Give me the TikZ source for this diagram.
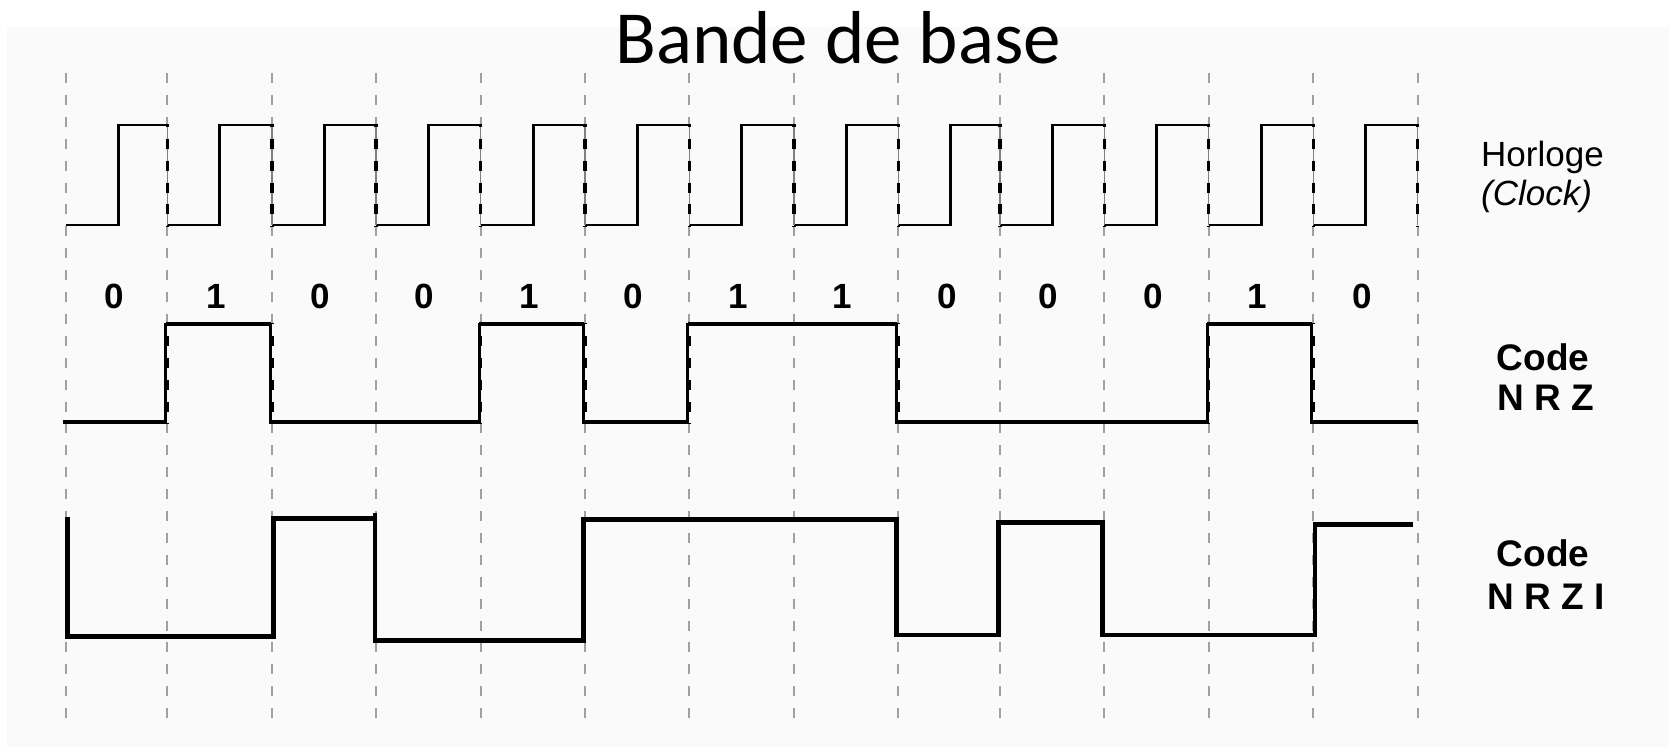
\documentclass[tikz,border=0pt]{standalone}
\usepackage{fontspec}
\setmainfont{Liberation Sans}
\newfontfamily\titlefont{Carlito}
\definecolor{panel}{HTML}{FAFAFA}
\definecolor{gridgray}{HTML}{A0A0A0}
\definecolor{edgegray}{HTML}{808080}
\begin{document}
\begin{tikzpicture}[x=1pt,y=-1pt,
  gridline/.style={gridgray, line width=2pt, dash pattern=on 10pt off 11.9pt},
  edgedash/.style={black, line width=3.2pt, dash pattern=on 10pt off 11.9pt},
  clk/.style={line width=2.8pt, line join=miter},
  nrzv/.style={line width=2.8pt, line join=miter},
  nrzh/.style={line width=4pt},
  nrzi/.style={line width=4.8pt, line join=miter},
  bit/.style={font=\fontsize{35}{40}\selectfont\bfseries, inner sep=0pt, anchor=base},
  lab/.style={font=\fontsize{35}{40}\selectfont, inner sep=0pt, anchor=base west},
  codelab/.style={font=\fontsize{37}{42}\selectfont\bfseries, inner sep=0pt, anchor=base}]
\useasboundingbox (0,0) rectangle (1669,747);
\fill[white] (0,0) rectangle (1669,747);
\fill[panel] (7,27) rectangle (1669,747);
% title
\node[font=\titlefont\fontsize{75}{80}\selectfont, inner sep=0pt, anchor=base] (title) at (838,63) {Bande de base};
% grid lines
\foreach \x in {66,167.3,272,376,480.7,585,689.3,794,898.3,1000,1104.3,1208.7,1313.3,1417.7}
  \draw[gridline] (\x,73) -- (\x,720);
% clock
\foreach \a/\b in {66/167.3,167.3/272,272/376,376/480.7,480.7/585,585/689.3,689.3/794,794/898.3,898.3/1000,1000/1104.3,1104.3/1208.7,1208.7/1313.3,1313.3/1417.7}
  \draw[clk] (\a,225) -- ({\a+52.4},225) -- ({\a+52.4},125) -- (\b,125);
\begin{scope}
  \clip (0,124) rectangle (1669,226);
  \foreach \x in {167.3,272,376,480.7,585,689.3,794,898.3,1000,1104.3,1208.7,1313.3,1417.7}{
    \draw[edgegray, line width=1.2pt] (\x,125) -- (\x,225);
    \draw[edgedash] (\x,73) -- (\x,720);
  }
\end{scope}
% bits
\foreach \x/\v in {66/0,167.3/1,272/0,376/0,480.7/1,585/0,689.3/1,794/1,898.3/0,1000/0,1104.3/0,1208.7/1,1313.3/0}
  \node[bit] at ({\x+48.5},308) {\v};
% NRZ
\draw[nrzv] (62.7,422.3) -- (165.8,422.3) -- (165.8,324) -- (270.5,324) -- (270.5,422.3)
  -- (479.2,422.3) -- (479.2,324) -- (583.5,324) -- (583.5,422.3) -- (687.8,422.3) -- (687.8,324)
  -- (896.8,324) -- (896.8,422.3) -- (1207.2,422.3) -- (1207.2,324) -- (1311.8,324) -- (1311.8,422.3) -- (1417.7,422.3);
\draw[nrzh] (62.7,422.3) -- (165.8,422.3) (165.8,324) -- (270.5,324) (270.5,422.3) -- (479.2,422.3)
  (479.2,324) -- (583.5,324) (583.5,422.3) -- (687.8,422.3) (687.8,324) -- (896.8,324)
  (896.8,422.3) -- (1207.2,422.3) (1207.2,324) -- (1311.8,324) (1311.8,422.3) -- (1417.7,422.3);
\begin{scope}
  \clip (0,323) rectangle (1669,423);
  \foreach \x in {167.3,272,480.7,585,689.3,898.3,1208.7,1313.3}
    \draw[edgedash] (\x,73) -- (\x,720);
\end{scope}
% NRZI
\draw[nrzi] (67.7,517.3) -- (67.7,636.7) -- (273.3,636.7) -- (273.3,518.3) -- (375,518.3);
\draw[nrzi] (375,513) -- (375,640.7) -- (583.3,640.7) -- (583.3,519.3) -- (896.7,519.3)
  -- (896.7,635) -- (998.3,635) -- (998.3,522.3) -- (1102.7,522.3) -- (1102.7,635)
  -- (1315,635) -- (1315,524.3) -- (1412.7,524.3);
% labels
\node[lab] (horloge) at (1481,166) {Horloge};
\node[lab, font=\fontsize{35}{40}\selectfont\itshape] (clock) at (1481,205) {(Clock)};
\node[codelab] (code1) at (1543,370) {Code};
\node[codelab] (nrz) at (1546,410) {N R Z};
\node[codelab] (code2) at (1543,566.5) {Code};
\node[codelab] (nrzi) at (1546,609) {N R Z I};
\end{tikzpicture}
\end{document}
